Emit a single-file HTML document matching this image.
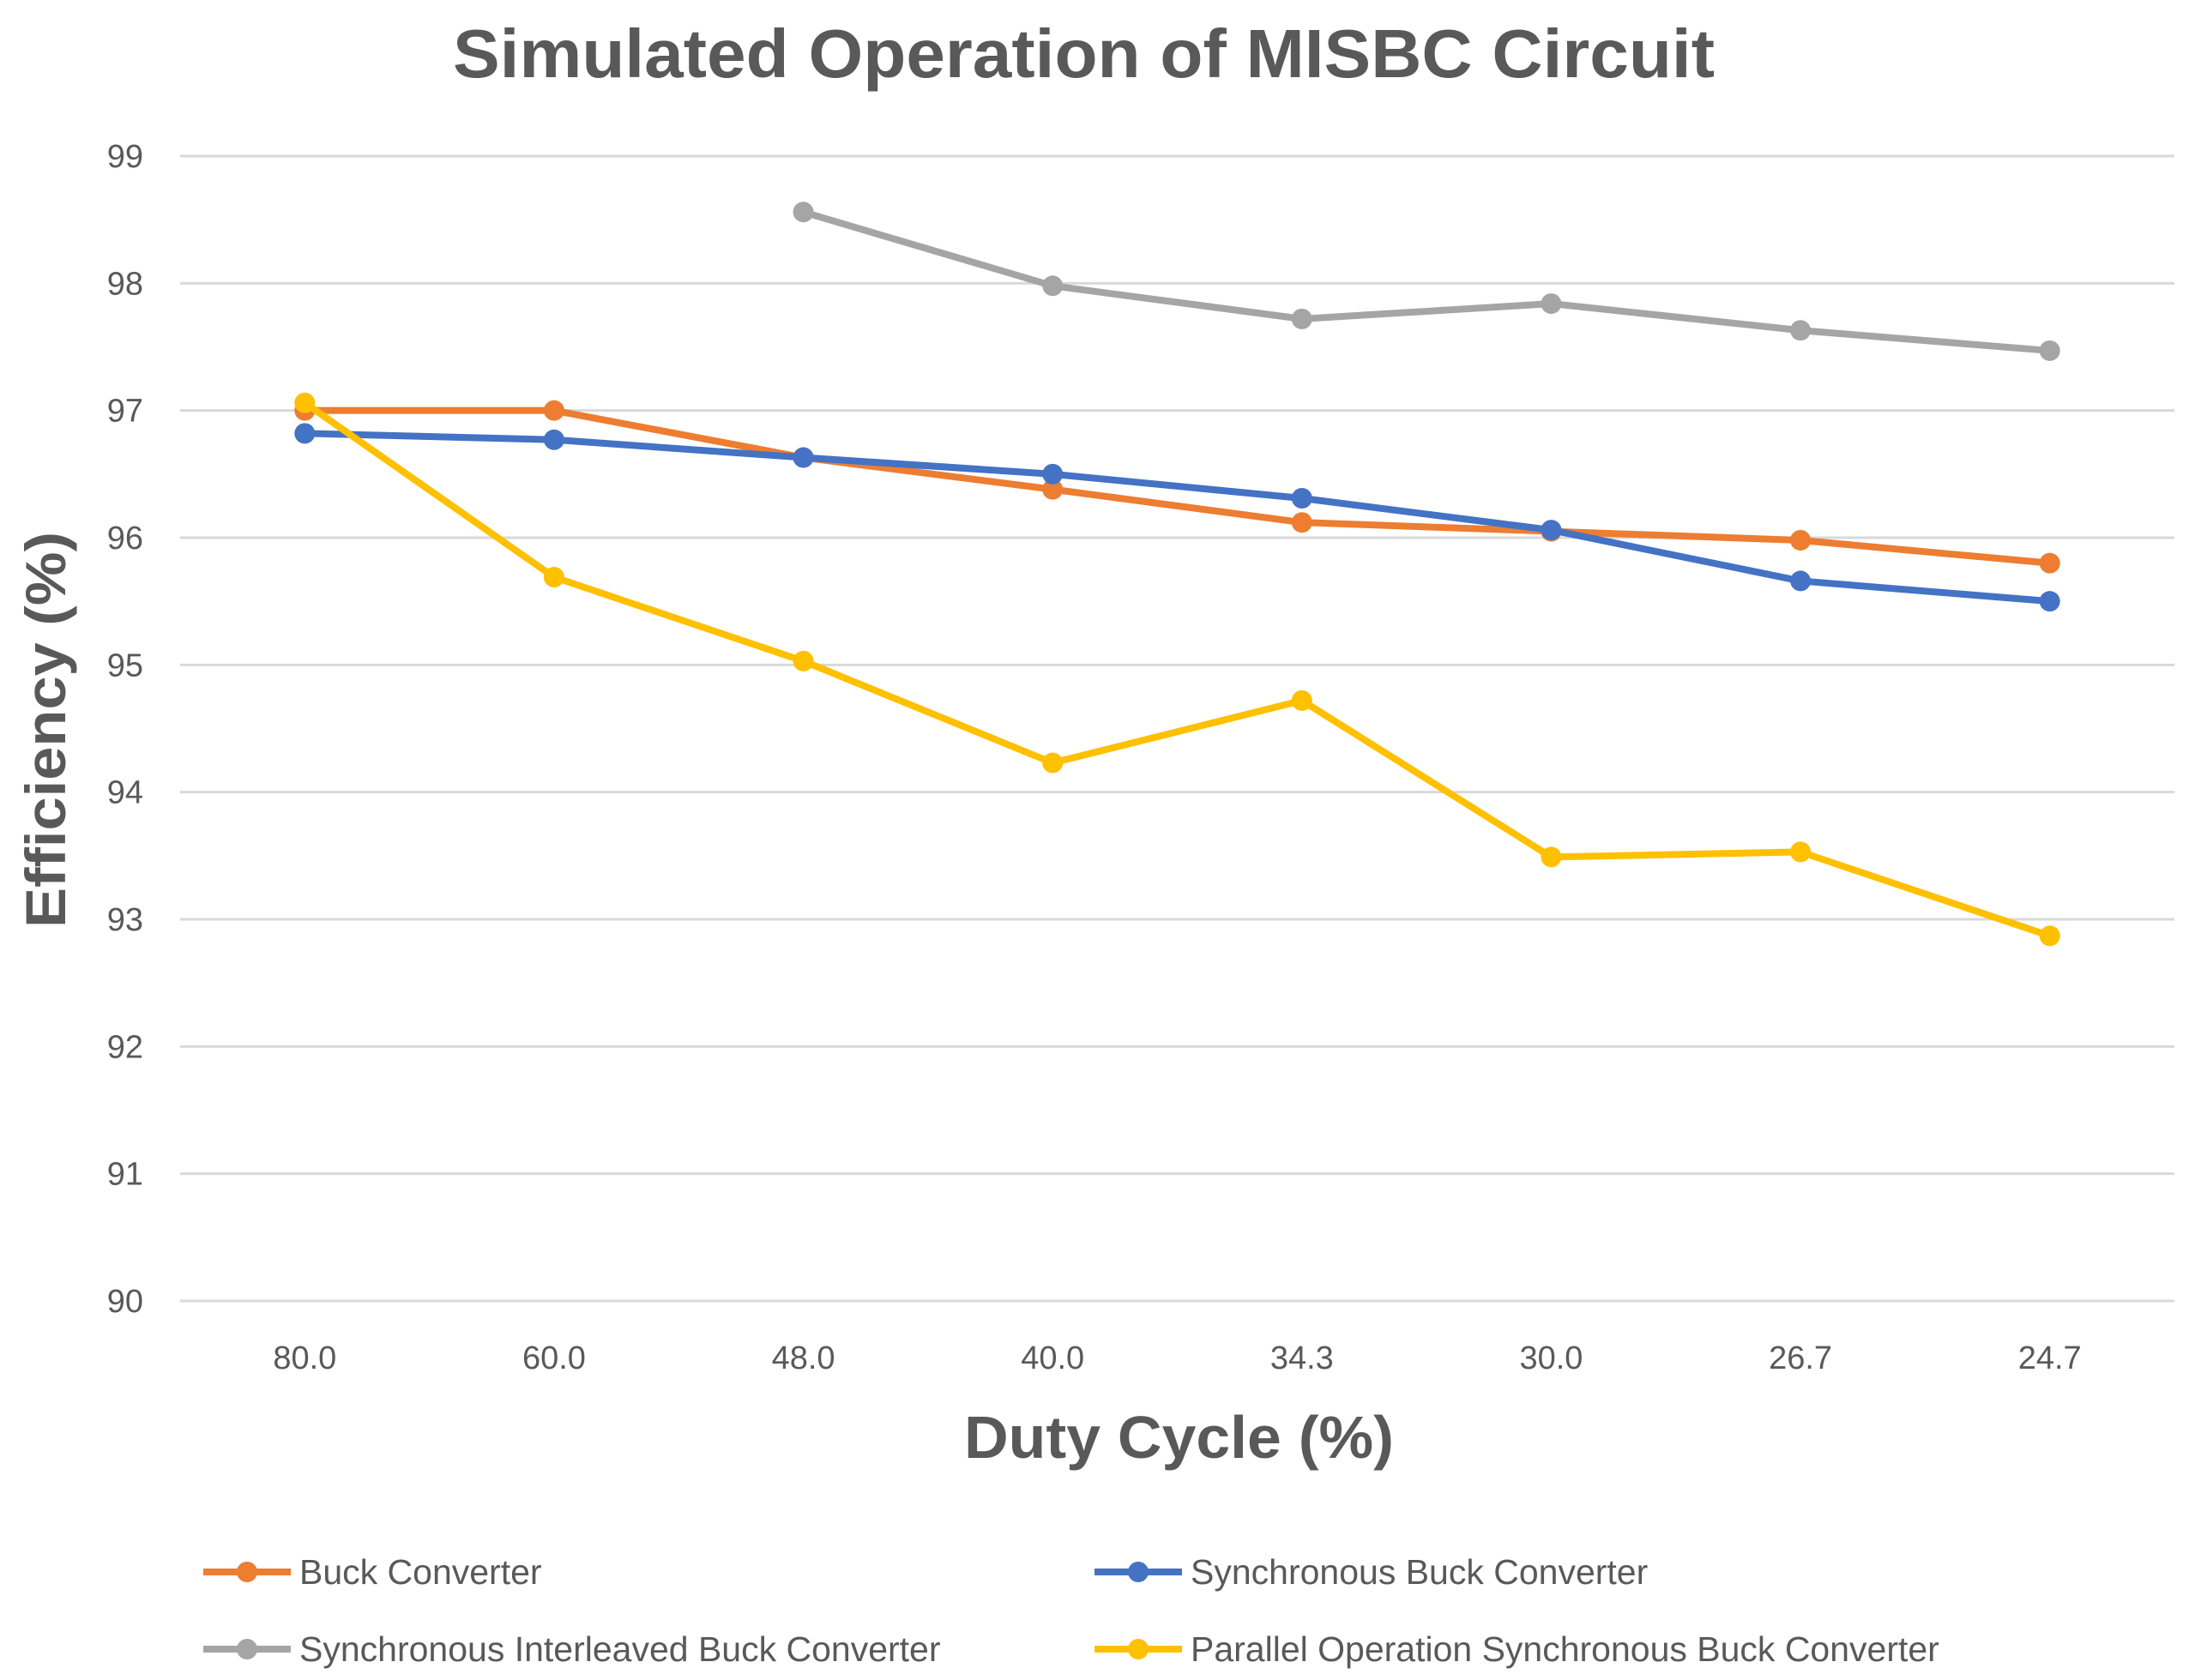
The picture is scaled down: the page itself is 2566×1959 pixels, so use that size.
<!DOCTYPE html>
<html><head><meta charset="utf-8"><style>
html,body{margin:0;padding:0;background:#fff}
svg{display:block;font-family:"Liberation Sans",sans-serif}
</style></head><body>
<svg id="chart" width="2566" height="1959" viewBox="0 0 2566 1959">
<rect x="0" y="0" width="2566" height="1959" fill="#fff"/>
<text x="528" y="90" textLength="1471" lengthAdjust="spacingAndGlyphs" font-size="80" font-weight="bold" fill="#595959">Simulated Operation of MISBC Circuit</text>
<g id="grid"></g>
<g id="yticks"></g>
<g id="xticks"></g>
<g id="series"></g>
<text x="1124" y="1700" textLength="501" lengthAdjust="spacingAndGlyphs" font-size="70" font-weight="bold" fill="#595959">Duty Cycle (%)</text>
<text transform="translate(76,851) rotate(-90)" x="-231" y="0" textLength="462" lengthAdjust="spacingAndGlyphs" font-size="66" font-weight="bold" fill="#595959">Efficiency (%)</text>
<g id="legend"></g>
</svg>
<script>
const categories = ["80.0","60.0","48.0","40.0","34.3","30.0","26.7","24.7"];
const yTicks = [90,91,92,93,94,95,96,97,98,99];
const buck = [97.0,97.0,96.63,96.38,96.12,96.05,95.98,95.8];
const syncBuck = [96.82,96.77,96.63,96.5,96.31,96.06,95.66,95.5];
const interleaved = [null,null,98.56,97.98,97.72,97.84,97.63,97.47];
const parallel = [97.06,95.69,95.03,94.23,94.72,93.49,93.53,92.87];
const seriesNames = ["Buck Converter","Synchronous Buck Converter","Synchronous Interleaved Buck Converter","Parallel Operation Synchronous Buck Converter"];

const NS="http://www.w3.org/2000/svg";
const left=210,right=2535,yTop=182,yBot=1517,vMin=90,vMax=99;
const bw=(right-left)/categories.length;
const xs=i=>left+bw*(i+0.5);
const ys=v=>yBot-(v-vMin)/(vMax-vMin)*(yBot-yTop);
function mk(tag,attrs,parent){const e=document.createElementNS(NS,tag);for(const k in attrs)e.setAttribute(k,attrs[k]);parent.appendChild(e);return e;}
const grid=document.getElementById('grid'),yt=document.getElementById('yticks'),xt=document.getElementById('xticks'),sg=document.getElementById('series'),lg=document.getElementById('legend');
yTicks.forEach(v=>{
  const l=mk('line',{x1:left,x2:right,y1:ys(v),y2:ys(v),stroke:'#d9d9d9','stroke-width':3},grid);
  
  
  const t=mk('text',{x:167,y:ys(v)+13,'text-anchor':'end','font-size':38,fill:'#595959'},yt);
  t.textContent=v;
  
  
});
categories.forEach((c,i)=>{
  const t=mk('text',{x:xs(i),y:1596,'text-anchor':'middle','font-size':38,fill:'#595959'},xt);
  t.textContent=c;
  
  
});
const all=[buck,syncBuck,interleaved,parallel];
const colors=["#ED7D31","#4472C4","#A5A5A5","#FFC000"];
const keys=["buck","sync-buck","interleaved","parallel"];
all.forEach((data,s)=>{
  const g=mk('g',{},sg);
  
  
  let d='';let started=false;
  data.forEach((v,i)=>{if(v==null)return;d+=(started?'L':'M')+xs(i)+' '+ys(v)+' ';started=true;});
  const p=mk('path',{d:d,fill:'none',stroke:colors[s],'stroke-width':8,'stroke-linejoin':'round','stroke-linecap':'round'},g);
  
  
  data.forEach((v,i)=>{if(v==null)return;
    const c=mk('circle',{cx:xs(i),cy:ys(v),r:12,fill:colors[s]},g);
    
    
  });
});
const legPos=[[237,1833],[1276,1833],[237,1923],[1276,1923]];
seriesNames.forEach((n,s)=>{
  const g=mk('g',{},lg);
  
  
  const [x,y]=legPos[s];
  mk('line',{x1:x,x2:x+102,y1:y,y2:y,stroke:colors[s],'stroke-width':8},g);
  mk('circle',{cx:x+51,cy:y,r:12,fill:colors[s]},g);
  const t=mk('text',{x:x+112,y:y+14,'font-size':41,fill:'#595959'},g);
  t.textContent=n;
});
</script>
</body></html>
